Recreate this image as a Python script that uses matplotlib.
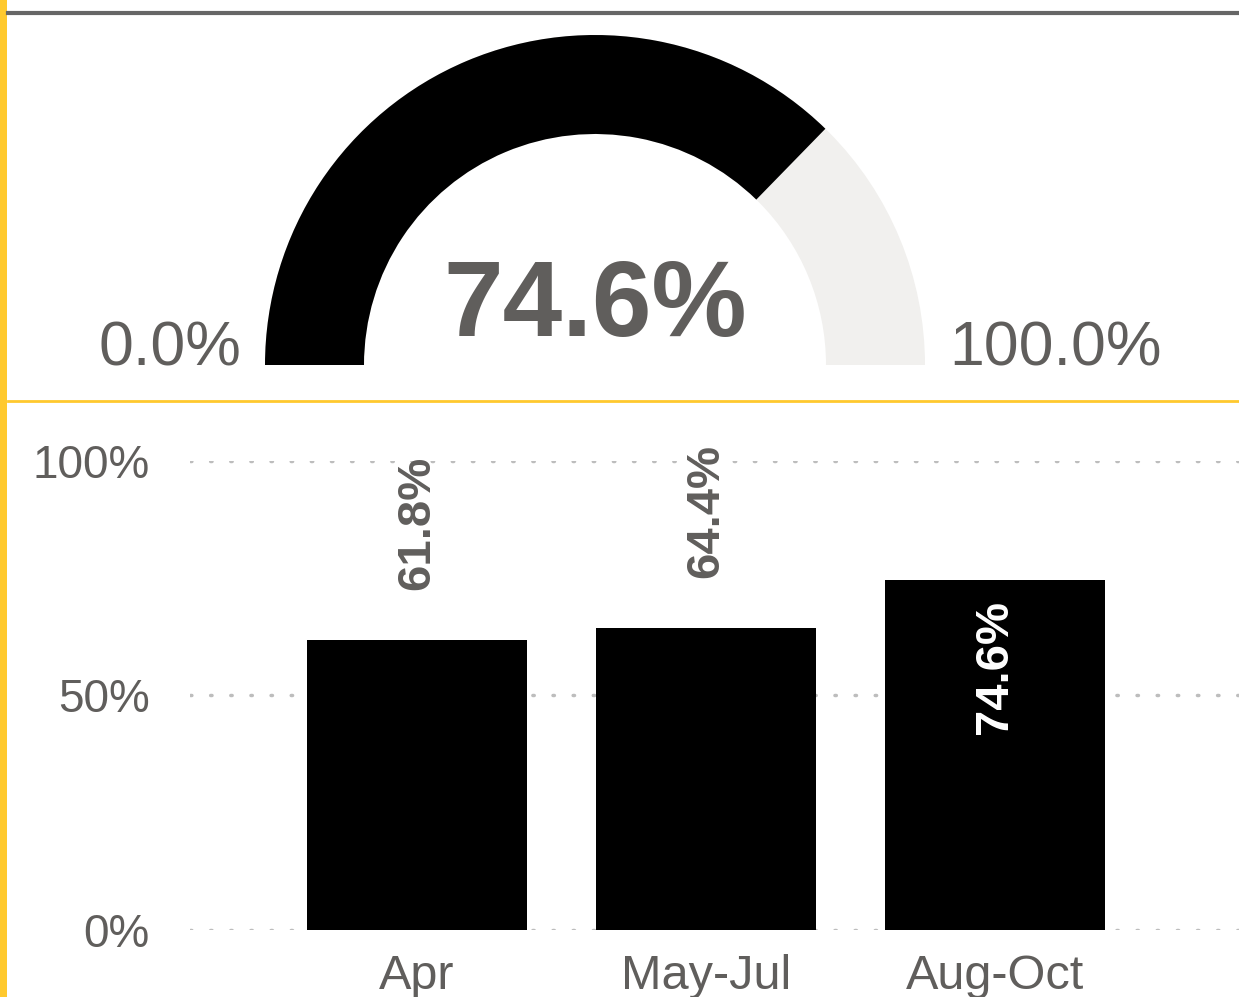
import matplotlib
matplotlib.use("Agg")
import matplotlib.pyplot as plt
from matplotlib.patches import Wedge, Rectangle
from matplotlib.lines import Line2D

# data
gauge_value = 74.6
gauge_min = 0.0
gauge_max = 100.0
periods = ["Apr", "May-Jul", "Aug-Oct"]
rates = [61.8, 64.4, 74.6]
y_ticks = [0, 50, 100]

GRAY = "#605E5C"
YELLOW = "#FFC92E"
TRACK = "#F1F0EE"
W, H = 1239, 997

plt.rcParams["font.family"] = ["Liberation Sans", "DejaVu Sans"]
plt.rcParams["lines.dash_capstyle"] = "round"

fig = plt.figure(figsize=(W / 100, H / 100), dpi=100)
fig.patch.set_facecolor("white")

# frame lines
fig.add_artist(Rectangle((0, 0), 7 / W, 1, transform=fig.transFigure, color=YELLOW, lw=0))
fig.add_artist(Line2D([8 / W, 1], [1 - 13 / H, 1 - 13 / H], transform=fig.transFigure, color="#666666", lw=3))
fig.add_artist(Line2D([8 / W, 1], [1 - 401 / H, 1 - 401 / H], transform=fig.transFigure, color=YELLOW, lw=2))

# gauge
cx, cy, R = 595, 365, 330
gax = fig.add_axes([(cx - R) / W, 1 - cy / H, 2 * R / W, R / H])
gax.set_xlim(-1, 1)
gax.set_ylim(0, 1)
gax.axis("off")
frac = (gauge_value - gauge_min) / (gauge_max - gauge_min)
gax.add_patch(Wedge((0, 0), 1, 0, 180, width=0.3, color=TRACK, lw=0))
gax.add_patch(Wedge((0, 0), 1, 180 * (1 - frac), 180, width=0.3, color="black", lw=0))
gax.text(0, 0.088, f"{gauge_value:.1f}%", ha="center", va="baseline", fontsize=77,
         fontweight="bold", color=GRAY)
gax.text(-1.072, 0.0, f"{gauge_min:.1f}%", ha="right", va="baseline", fontsize=45,
         color=GRAY, clip_on=False)
gax.text(1.074, 0.0, f"{gauge_max:.1f}%", ha="left", va="baseline", fontsize=45,
         color=GRAY, clip_on=False)

# bar chart
ax = fig.add_axes([190 / W, 1 - 930 / H, (W - 190) / W, (930 - 461) / H])
x = list(range(len(periods)))
ax.bar(x, rates, width=0.76, color="black", zorder=2)
ax.set_xlim(-0.785, 2.844)
ax.set_ylim(0, 100)
ax.set_yticks(y_ticks)
ax.set_yticklabels([f"{t}%" for t in y_ticks])
ax.set_xticks(x)
ax.set_xticklabels(periods, fontsize=35)
ax.tick_params(axis="y", length=0, pad=29, labelsize=33, labelcolor=GRAY)
ax.tick_params(axis="x", length=0, pad=17, labelcolor=GRAY)
for lbl in ax.get_xticklabels():
    lbl.set_x(lbl.get_position()[0])
for s in ax.spines.values():
    s.set_visible(False)
ax.yaxis.grid(True, color="#BDBDBD", lw=2.5, linestyle=(0, (0.4, 5.4)), zorder=1)
ax.set_axisbelow(True)

for xi, v in zip(x, rates):
    if v > 70:
        ax.annotate(f"{v:.1f}%", (xi, v), xytext=(0, -14), textcoords="offset points",
                    rotation=90, ha="center", va="top", fontsize=34, fontweight="bold",
                    color="white")
    else:
        ax.annotate(f"{v:.1f}%", (xi, v), xytext=(0, 36), textcoords="offset points",
                    rotation=90, ha="center", va="bottom", fontsize=34, fontweight="bold",
                    color=GRAY)

fig.savefig("out.png", dpi=100)
